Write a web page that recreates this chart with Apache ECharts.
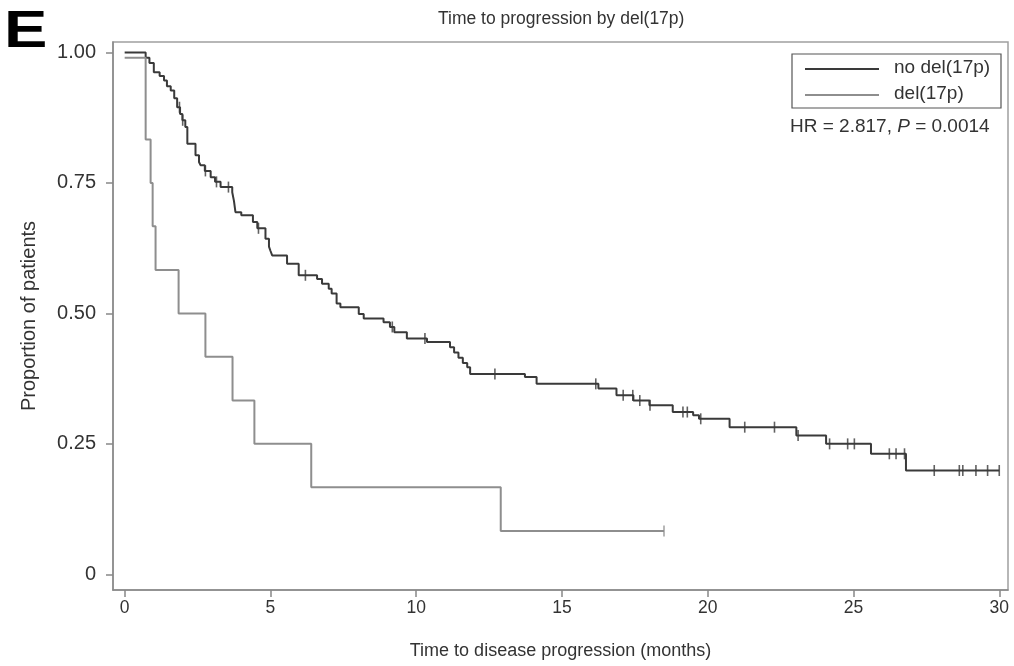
<!DOCTYPE html>
<html>
<head>
<meta charset="utf-8">
<title>Time to progression by del(17p)</title>
<script src="https://cdn.jsdelivr.net/npm/echarts@6/dist/echarts.min.js"></script>
<style>
  html, body { margin: 0; padding: 0; background: #fff; }
  #chart { width: 1014px; height: 666px; }
</style>
</head>
<body>
<div id="chart"></div>
<script>
// no del(17p): month of each drop and proportion left after it
var noDelTimes = [0, 0.72, 0.85, 1.0, 1.2, 1.35, 1.45, 1.58, 1.7, 1.8, 1.9, 1.98, 2.08, 2.15, 2.43, 2.55, 2.6,
  2.75, 2.95, 3.1, 3.29, 3.69, 3.75, 3.8, 4.0, 4.4, 4.55, 4.83, 4.95, 5.0, 5.06, 5.57, 5.97, 6.6, 6.77,
  7.0, 7.1, 7.27, 7.4, 8.03, 8.2, 8.88, 9.1, 9.25, 9.68, 10.37, 11.16, 11.3, 11.45, 11.6, 11.75, 11.85,
  13.73, 14.13, 16.25, 16.87, 17.45, 18.0, 18.8, 19.5, 19.7, 20.75, 23.04, 24.06, 25.6, 26.8, 30.0];
var noDelSurv = [1.0, 0.99, 0.98, 0.962, 0.955, 0.946, 0.935, 0.927, 0.912, 0.895, 0.882, 0.87, 0.857, 0.825, 0.803, 0.79, 0.784,
  0.773, 0.761, 0.752, 0.742, 0.732, 0.715, 0.694, 0.688, 0.675, 0.663, 0.643, 0.628, 0.62, 0.611, 0.595, 0.573, 0.566, 0.557,
  0.547, 0.538, 0.519, 0.512, 0.499, 0.49, 0.483, 0.474, 0.464, 0.452, 0.445, 0.435, 0.425, 0.415, 0.405, 0.397, 0.384,
  0.378, 0.365, 0.356, 0.343, 0.333, 0.324, 0.311, 0.305, 0.298, 0.282, 0.266, 0.25, 0.231, 0.199, 0.199];
var noDelCensor = [1.88, 1.99, 2.77, 3.15, 3.56, 4.59, 6.2, 9.18, 10.3, 12.7, 16.16, 17.1, 17.43, 17.67, 18.02,
  19.15, 19.3, 19.76, 21.27, 22.29, 23.1, 24.18, 24.8, 25.03, 26.23, 26.46, 26.75, 27.77, 28.63, 28.75, 29.2, 29.6, 30.0];

// del(17p)
var delTimes = [0, 0.72, 0.89, 0.96, 1.06, 1.85, 2.77, 3.7, 4.45, 6.4, 12.9, 18.5];
var delSurv = [0.99, 0.833, 0.75, 0.667, 0.583, 0.5, 0.417, 0.333, 0.25, 0.167, 0.083, 0.083];
var delCensor = [18.5];

var xTicks = [0, 5, 10, 15, 20, 25, 30];
var yTicks = [0, 0.25, 0.5, 0.75, 1];

var darkCol = '#3a3a3a';
var greyCol = '#8e8e8e';
var font = "'Liberation Sans', Arial, sans-serif";

function pairs(ts, ss) {
  return ts.map(function (t, i) { return [t, ss[i]]; });
}
// y of a censor mark = value of the step curve at that time
function onCurve(ts, ss, cs) {
  return cs.map(function (c) {
    var v = ss[0];
    for (var i = 0; i < ts.length; i++) { if (ts[i] <= c) v = ss[i]; }
    return [c, v];
  });
}

var chart = echarts.init(document.getElementById('chart'));
chart.setOption({
  animation: false,
  textStyle: { fontFamily: font },
  title: {
    text: 'Time to progression by del(17p)',
    left: 433, top: 5,
    textStyle: { fontSize: 17.5, fontWeight: 'normal', color: '#333', fontFamily: font }
  },
  grid: {
    left: 113, right: 6, top: 42, bottom: 76,
    show: true, borderColor: '#a0a0a0', borderWidth: 1.5
  },
  xAxis: {
    type: 'value', min: -0.4, max: 30.3,
    name: 'Time to disease progression (months)',
    nameLocation: 'middle', nameGap: 52,
    nameTextStyle: { fontSize: 18, color: '#333' },
    axisLine: { onZero: false, lineStyle: { color: '#888', width: 1.5 } },
    axisTick: { customValues: xTicks, length: 7, lineStyle: { color: '#888', width: 1.5 } },
    axisLabel: { customValues: xTicks, fontSize: 17.5, color: '#333', margin: 9 },
    splitLine: { show: false }
  },
  yAxis: {
    type: 'value', min: -0.03, max: 1.02,
    name: 'Proportion of patients',
    nameLocation: 'middle', nameGap: 74,
    nameTextStyle: { fontSize: 20, color: '#333' },
    axisLine: { show: true, onZero: false, lineStyle: { color: '#888', width: 1.5 } },
    axisTick: { show: true, customValues: yTicks, length: 7, lineStyle: { color: '#888', width: 1.5 } },
    axisLabel: {
      customValues: yTicks, fontSize: 20, color: '#333', margin: 17,
      formatter: function (v) { return v === 0 ? '0' : v.toFixed(2); }
    },
    splitLine: { show: false }
  },
  series: [
    {
      name: 'no del(17p)', type: 'line', step: 'end', symbol: 'none',
      lineStyle: { color: darkCol, width: 2 },
      data: pairs(noDelTimes, noDelSurv)
    },
    {
      name: 'del(17p)', type: 'line', step: 'end', symbol: 'none',
      lineStyle: { color: greyCol, width: 2 },
      data: pairs(delTimes, delSurv)
    },
    {
      type: 'scatter', symbol: 'rect', symbolSize: [1.6, 11],
      itemStyle: { color: darkCol },
      data: onCurve(noDelTimes, noDelSurv, noDelCensor)
    },
    {
      type: 'scatter', symbol: 'rect', symbolSize: [1.6, 11],
      itemStyle: { color: greyCol },
      data: onCurve(delTimes, delSurv, delCensor)
    }
  ],
  graphic: [
    { type: 'text', x: 4, y: 7, scaleX: 1.25,
      style: { text: 'E', fontSize: 52, fontWeight: 'bold', fill: '#000', fontFamily: font } },
    { type: 'rect', shape: { x: 792, y: 54, width: 209, height: 54 },
      style: { fill: null, stroke: '#555', lineWidth: 1.2 } },
    { type: 'line', shape: { x1: 805, y1: 69, x2: 879, y2: 69 },
      style: { stroke: darkCol, lineWidth: 2 } },
    { type: 'line', shape: { x1: 805, y1: 95, x2: 879, y2: 95 },
      style: { stroke: greyCol, lineWidth: 2 } },
    { type: 'text', x: 894, y: 68,
      style: { text: 'no del(17p)', fontSize: 19, fill: '#333', verticalAlign: 'middle', fontFamily: font } },
    { type: 'text', x: 894, y: 94,
      style: { text: 'del(17p)', fontSize: 19, fill: '#333', verticalAlign: 'middle', fontFamily: font } },
    { type: 'text', x: 790, y: 127,
      style: {
        text: 'HR = 2.817, {i|P} = 0.0014', fontSize: 19, fill: '#333', verticalAlign: 'middle', fontFamily: font,
        rich: { i: { fontStyle: 'italic', fontSize: 19, fill: '#333', fontFamily: font } }
      } }
  ]
});
</script>
</body>
</html>
